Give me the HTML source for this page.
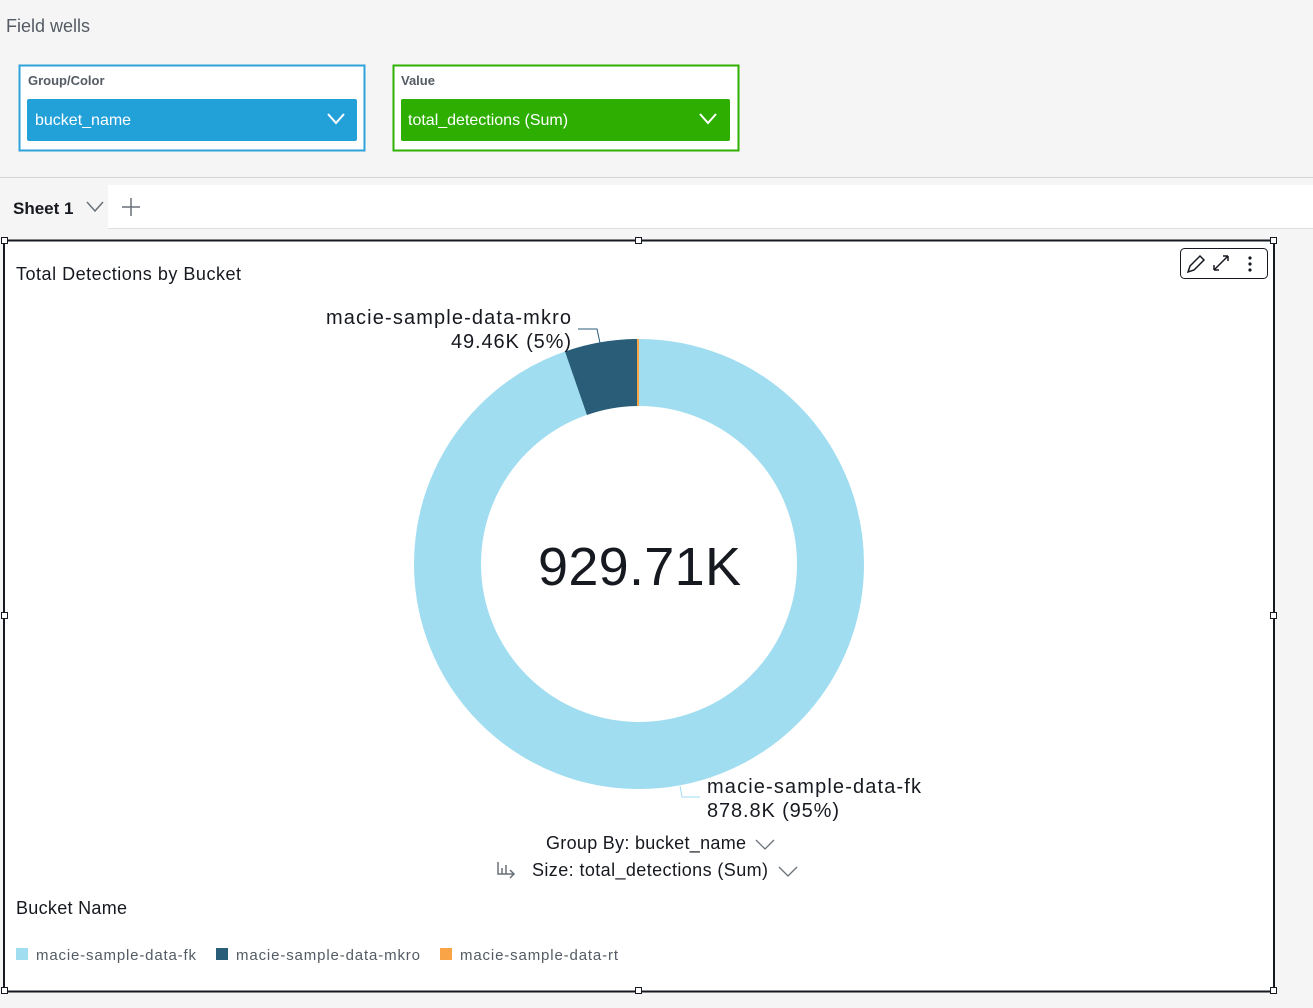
<!DOCTYPE html>
<html><head><meta charset="utf-8"><style>
html,body{margin:0;padding:0;background:#f5f5f5;width:1313px;height:1008px;overflow:hidden;font-family:"Liberation Sans",sans-serif;}
</style></head><body>
<svg width="1313" height="1008" xmlns="http://www.w3.org/2000/svg" font-family="Liberation Sans, sans-serif">
<rect width="1313" height="1008" fill="#f5f5f5"/>
<text x="6" y="32" font-size="18" fill="#545b64">Field wells</text>
<rect x="19.5" y="65.5" width="345" height="85" fill="#fff" stroke="#2ea3da" stroke-width="2"/>
<text x="28" y="85" font-size="13" font-weight="bold" fill="#545b64">Group/Color</text>
<rect x="27" y="99" width="330" height="42" rx="2" fill="#22a1d9"/>
<text x="35" y="125" font-size="16" fill="#fff">bucket_name</text>
<polyline points="328,114 336,123 344,114" fill="none" stroke="#fff" stroke-width="2"/>
<rect x="393.5" y="65.5" width="345" height="85" fill="#fff" stroke="#2eb000" stroke-width="2"/>
<text x="401" y="85" font-size="13" font-weight="bold" fill="#545b64">Value</text>
<rect x="401" y="99" width="329" height="42" rx="2" fill="#2eae00"/>
<text x="408" y="125" font-size="16" fill="#fff">total_detections (Sum)</text>
<polyline points="700,114 708,123 716,114" fill="none" stroke="#fff" stroke-width="2"/>
<line x1="0" y1="177.5" x2="1313" y2="177.5" stroke="#d5d5d5"/>
<rect x="108" y="185" width="1205" height="43" fill="#fff"/>
<line x1="108" y1="228.5" x2="1313" y2="228.5" stroke="#e0e0e0"/>
<text x="13" y="214" font-size="17" font-weight="bold" fill="#16191f">Sheet 1</text>
<polyline points="87,202 95,211 103,202" fill="none" stroke="#687078" stroke-width="1.5"/>
<path d="M131 198 V216 M122 207 H140" stroke="#687078" stroke-width="1.5"/>
<rect x="4" y="240.5" width="1270" height="751" fill="#fff" stroke="#16191f" stroke-width="2"/>
<g fill="#fff" stroke="#16191f" stroke-width="1">
<rect x="1.5" y="237.5" width="6" height="6"/><rect x="635.5" y="237.5" width="6" height="6"/><rect x="1270.5" y="237.5" width="6" height="6"/>
<rect x="1.5" y="612.5" width="6" height="6"/><rect x="1270.5" y="612.5" width="6" height="6"/>
<rect x="1.5" y="987.5" width="6" height="6"/><rect x="635.5" y="987.5" width="6" height="6"/><rect x="1270.5" y="987.5" width="6" height="6"/>
</g>
<rect x="1180.5" y="248.5" width="87" height="30" rx="4" fill="#fff" stroke="#16191f"/>
<path d="M1188 272 l2-6 10-10 4 4 -10 10z" fill="none" stroke="#16191f" stroke-width="1.5"/>
<path d="M1214 270 l14-14 M1214 270 v-5 M1214 270 h5 M1228 256 h-5 M1228 256 v5" fill="none" stroke="#16191f" stroke-width="1.5"/>
<circle cx="1250" cy="258" r="1.6" fill="#16191f"/><circle cx="1250" cy="264" r="1.6" fill="#16191f"/><circle cx="1250" cy="270" r="1.6" fill="#16191f"/>
<text x="16" y="280" font-size="18" fill="#16191f" textLength="225">Total Detections by Bucket</text>
<circle cx="639" cy="564" r="191.5" fill="none" stroke="#a0ddf0" stroke-width="67"/>
<path d="M639 339 A225 225 0 0 0 565 351.5 L587 415 A158 158 0 0 1 639 406 Z" fill="#2a5d78"/>
<rect x="637" y="339" width="2" height="67" fill="#f8a447"/>
<polyline points="578,329 597,329 600,343" fill="none" stroke="#2a5d78" stroke-width="1"/>
<polyline points="680,786 682,797 700,797" fill="none" stroke="#a0ddf0" stroke-width="1"/>
<text x="326" y="324" font-size="20" fill="#16191f" textLength="245">macie-sample-data-mkro</text>
<text x="451" y="348" font-size="20" fill="#16191f" textLength="120">49.46K (5%)</text>
<text x="707" y="793" font-size="20" fill="#16191f" textLength="214">macie-sample-data-fk</text>
<text x="707" y="817" font-size="20" fill="#16191f" textLength="132">878.8K (95%)</text>
<text x="538" y="585" font-size="54" fill="#16191f" textLength="203">929.71K</text>
<text x="546" y="849" font-size="18" fill="#16191f" textLength="200">Group By: bucket_name</text>
<polyline points="756,840 765,849 774,840" fill="none" stroke="#687078" stroke-width="1.3"/>
<path d="M498 862 v12 h16 M502 868 v6 M506 865 v9 M510 870 l4 4 -4 4" fill="none" stroke="#687078" stroke-width="1.5"/>
<text x="532" y="876" font-size="18" fill="#16191f" textLength="236">Size: total_detections (Sum)</text>
<polyline points="779,867 788,876 797,867" fill="none" stroke="#687078" stroke-width="1.3"/>
<text x="16" y="914" font-size="18" fill="#16191f" textLength="111">Bucket Name</text>
<rect x="16" y="948" width="12" height="12" fill="#a0ddf0"/>
<text x="36" y="960" font-size="15" fill="#545b64" textLength="160">macie-sample-data-fk</text>
<rect x="216" y="948" width="12" height="12" fill="#2a5d78"/>
<text x="236" y="960" font-size="15" fill="#545b64" textLength="184">macie-sample-data-mkro</text>
<rect x="440" y="948" width="12" height="12" fill="#f8a447"/>
<text x="460" y="960" font-size="15" fill="#545b64" textLength="158">macie-sample-data-rt</text>
</svg>
</body></html>
